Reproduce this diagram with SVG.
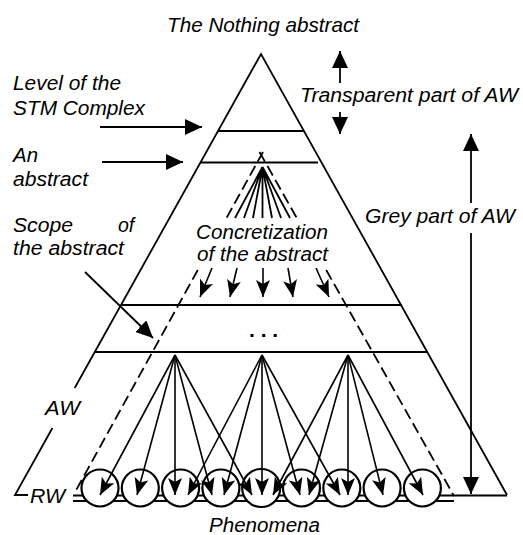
<svg xmlns="http://www.w3.org/2000/svg" width="523" height="535" viewBox="0 0 523 535">
<defs>
<style>
.ln{stroke:#000;stroke-width:1.8;fill:none}
.ds{stroke:#000;stroke-width:1.8;fill:none;stroke-dasharray:11,5}
.t{font-family:"Liberation Sans",Arial,sans-serif;font-style:italic;font-size:19.5px;fill:#000}
.ar{stroke:#000;stroke-width:1.8;fill:none;marker-end:url(#tri)}
.fa{stroke:#000;stroke-width:1.6;fill:none;marker-end:url(#barb)}
.ph{fill:#fff;stroke:#000;stroke-width:2.2}
</style>
<marker id="tri" markerUnits="userSpaceOnUse" viewBox="0 0 17 16" refX="17" refY="8" markerWidth="17" markerHeight="16" orient="auto"><path d="M0,0 L17,8 L0,16 z" fill="#000"/></marker>
<marker id="barb" markerUnits="userSpaceOnUse" viewBox="0 0 17 14" refX="17" refY="7" markerWidth="17" markerHeight="14" orient="auto"><path d="M0,0 L17,7 L0,14 L4,7 z" fill="#000"/></marker>
</defs>
<rect width="523" height="535" fill="#fff"/>

<g id="pyramid">
<path class="ln" d="M74.7,388 L261,54 L507,495"/>
<path class="ln" d="M52.4,428 L15,495 L28,495"/>
<path class="ln" d="M73,495.5 H507 M73,501 H454"/>
<path class="ln" d="M218,131 H304"/>
<path class="ln" d="M200.7,162.5 H318"/>
<path class="ln" d="M121.5,305 H402"/>
<path class="ln" d="M95,352 H427"/>
</g>

<g id="scope">
<path class="ds" d="M263,152 L226.5,218 M197.8,270 L74,494"/>
<path class="ds" d="M259.5,152 L296.8,218 M326.2,270 L454,496"/>
</g>

<g id="phenomena">
<g id="p1"><circle class="ph" cx="100" cy="488" r="18.5"/></g>
<g id="p2"><circle class="ph" cx="140.3" cy="488" r="18.5"/></g>
<g id="p3"><circle class="ph" cx="180.6" cy="488" r="18.5"/></g>
<g id="p4"><circle class="ph" cx="220.9" cy="488" r="18.5"/></g>
<g id="p5"><circle class="ph" cx="261.2" cy="488" r="19"/></g>
<g id="p6"><circle class="ph" cx="301.5" cy="488" r="18.5"/></g>
<g id="p7"><circle class="ph" cx="341.8" cy="488" r="18.5"/></g>
<g id="p8"><circle class="ph" cx="382.1" cy="488" r="18.5"/></g>
<g id="p9"><circle class="ph" cx="422.4" cy="488" r="18.5"/></g>
</g>

<g id="connectors">
<path class="ar" d="M100,127 H202"/>
<path class="ar" d="M102,162 H183"/>
<path class="ar" d="M85,272 L153,338"/>
<path class="ar" d="M340,83 V51"/>
<path class="ar" d="M340,112 V134"/>
<path class="ar" d="M471,203 V134"/>
<path class="ar" d="M471,233 V494"/>
<path class="ln" stroke-width="1.5" d="M262.5,167 L235,218 M262.5,167 L244,218 M262.5,167 L253,218 M262.5,167 L262.5,218 M262.5,167 L272,218 M262.5,167 L281,218 M262.5,167 L290,218"/>
<path class="fa" d="M212,268 L200,297"/>
<path class="fa" d="M237,268 L230,297"/>
<path class="fa" d="M263,268 L263,297"/>
<path class="fa" d="M288,268 L293,297"/>
<path class="fa" d="M316,268 L329,297"/>
<path class="fa" d="M175,355 L100,495"/>
<path class="fa" d="M175,355 L137,495"/>
<path class="fa" d="M175,355 L175,495"/>
<path class="fa" d="M175,355 L212,495"/>
<path class="fa" d="M175,355 L252,495"/>
<path class="fa" d="M262,355 L188,495"/>
<path class="fa" d="M262,355 L224,495"/>
<path class="fa" d="M262,355 L262,495"/>
<path class="fa" d="M262,355 L300,495"/>
<path class="fa" d="M262,355 L340,495"/>
<path class="fa" d="M348,355 L273,495"/>
<path class="fa" d="M348,355 L309,495"/>
<path class="fa" d="M348,355 L348,495"/>
<path class="fa" d="M348,355 L383,495"/>
<path class="fa" d="M348,355 L423,495"/>
</g>

<g id="labels">
<text class="t" x="167" y="32" style="font-size:21px" textLength="192" lengthAdjust="spacingAndGlyphs">The Nothing abstract</text>
<text class="t" x="13" y="90" textLength="108" lengthAdjust="spacingAndGlyphs">Level of the</text>
<text class="t" x="13" y="114.5" textLength="132" lengthAdjust="spacingAndGlyphs">STM Complex</text>
<text class="t" x="13" y="162" textLength="25" lengthAdjust="spacingAndGlyphs">An</text>
<text class="t" x="13" y="186" textLength="75" lengthAdjust="spacingAndGlyphs">abstract</text>
<text class="t" y="231.5"><tspan x="13" textLength="60" lengthAdjust="spacingAndGlyphs">Scope</tspan><tspan x="118">of</tspan></text>
<text class="t" x="13" y="255" textLength="111" lengthAdjust="spacingAndGlyphs">the abstract</text>
<text class="t" x="196" y="239" textLength="132" lengthAdjust="spacingAndGlyphs">Concretization</text>
<text class="t" x="197" y="261" textLength="131" lengthAdjust="spacingAndGlyphs">of the abstract</text>
<text x="249" y="337" style="font-family:'Liberation Sans',Arial,sans-serif;font-weight:bold;font-size:21px">. . .</text>
<text class="t" x="300" y="102" textLength="218" lengthAdjust="spacingAndGlyphs">Transparent part of AW</text>
<text class="t" x="365" y="223" textLength="150" lengthAdjust="spacingAndGlyphs">Grey part of AW</text>
<text class="t" x="45" y="415" textLength="35" lengthAdjust="spacingAndGlyphs">AW</text>
<text class="t" x="30" y="503" textLength="35" lengthAdjust="spacingAndGlyphs">RW</text>
<text class="t" x="209" y="532" textLength="111" lengthAdjust="spacingAndGlyphs">Phenomena</text>
</g>
</svg>
